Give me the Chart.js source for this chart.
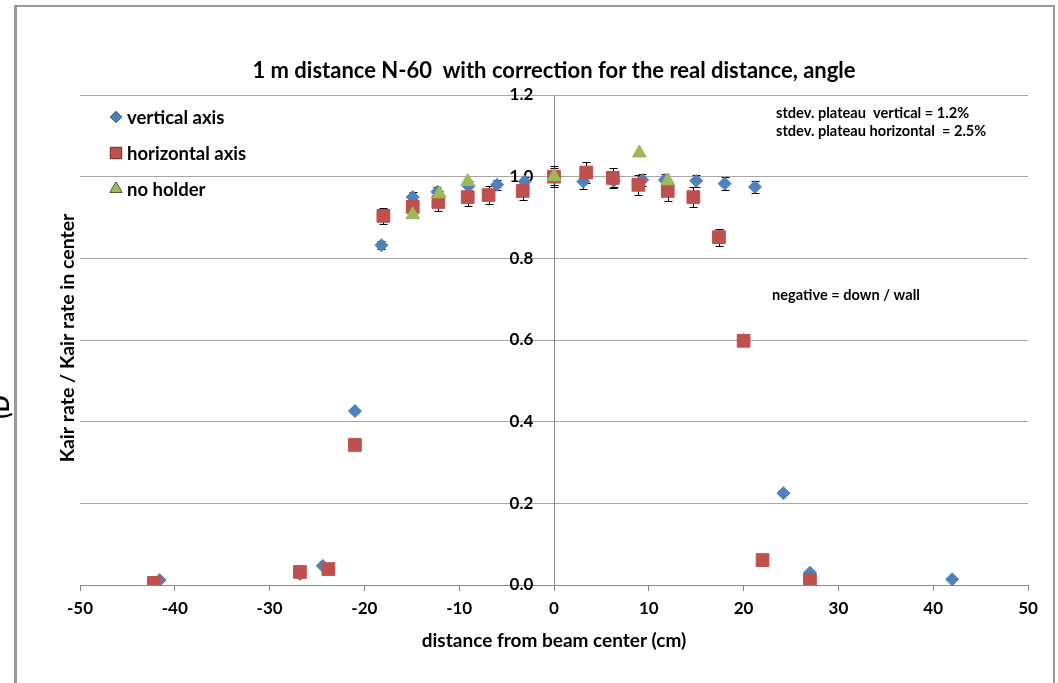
<!DOCTYPE html>
<html>
<head>
<meta charset="utf-8">
<script src="https://cdn.jsdelivr.net/npm/chart.js@4.4.1/dist/chart.umd.min.js"></script>
<style>
  html, body { margin: 0; padding: 0; background: #fff; }
  #wrap { width: 1058px; height: 683px; }
</style>
</head>
<body>
<div id="wrap"><canvas id="kairChart" width="1058" height="683"></canvas></div>
<script>
// data
var verticalX = [-41.6, -26.8, -24.4, -21, -18.2, -14.9, -12.3, -9, -6, -3.1, 0, 3.1, 6.3, 9.3, 11.7, 15, 18, 20, 21.2, 24.2, 27, 42];
var verticalY = [0.012, 0.027, 0.047, 0.426, 0.832, 0.95, 0.963, 0.977, 0.98, 0.988, 1.0, 0.988, 0.99, 0.992, 0.992, 0.99, 0.983, 0.6, 0.975, 0.225, 0.03, 0.014];
var verticalErr = [0.001, 0.001, 0.001, 0.005, 0.01, 0.012, 0.012, 0.012, 0.012, 0.012, 0.02, 0.017, 0.015, 0.015, 0.015, 0.015, 0.016, 0.008, 0.015, 0.003, 0.001, 0.001];

var horizontalX = [-42.2, -26.8, -23.8, -21, -18, -14.9, -12.2, -9.1, -6.9, -3.3, 0, 3.4, 6.2, 8.9, 12, 14.7, 17.4, 20, 22, 27];
var horizontalY = [0.005, 0.032, 0.039, 0.343, 0.904, 0.926, 0.938, 0.95, 0.955, 0.965, 1.0, 1.01, 0.997, 0.98, 0.965, 0.95, 0.852, 0.598, 0.061, 0.012];
var horizontalErr = [0, 0, 0, 0.005, 0.02, 0.02, 0.022, 0.022, 0.022, 0.022, 0.025, 0.025, 0.024, 0.025, 0.025, 0.025, 0.021, 0.013, 0.002, 0];

var noHolderX = [-14.9, -12.1, -9.1, 0, 9, 12];
var noHolderY = [0.907, 0.958, 0.988, 1.0, 1.058, 0.99];

var xTicks = [-50, -40, -30, -20, -10, 0, 10, 20, 30, 40, 50];
var yTicks = [0.0, 0.2, 0.4, 0.6, 0.8, 1.0, 1.2];

var FONT = 'Lato, "Open Sans", sans-serif';

function toPoints(xs, ys) {
    var pts = [];
    for (var i = 0; i < xs.length; i++) pts.push({ x: xs[i], y: ys[i] });
    return pts;
}

// error bars, drawn under the markers
var errorBars = {
    id: 'errorBars',
    beforeDatasetsDraw: function(chart) {
        var ctx = chart.ctx;
        var xs = chart.scales.x, ys = chart.scales.y;
        ctx.save();
        ctx.strokeStyle = '#000';
        ctx.lineWidth = 1;
        chart.data.datasets.forEach(function(ds) {
            if (!ds.errors) return;
            ds.data.forEach(function(p, i) {
                var e = ds.errors[i];
                if (!e) return;
                var px = Math.round(xs.getPixelForValue(p.x)) + 0.5;
                var top = Math.round(ys.getPixelForValue(p.y + e)) + 0.5;
                var bot = Math.round(ys.getPixelForValue(p.y - e)) + 0.5;
                ctx.beginPath();
                ctx.moveTo(px, top); ctx.lineTo(px, bot);
                ctx.moveTo(px - 4, top); ctx.lineTo(px + 4, top);
                ctx.moveTo(px - 4, bot); ctx.lineTo(px + 4, bot);
                ctx.stroke();
            });
        });
        ctx.restore();
    }
};

// titles, legend, notes and outer frame
var decorations = {
    id: 'decorations',
    afterDraw: function(chart) {
        var ctx = chart.ctx;
        ctx.save();
        ctx.fillStyle = '#000';

        ctx.font = 'bold 22px ' + FONT;
        ctx.textAlign = 'center';
        ctx.textBaseline = 'middle';
        ctx.fillText('1 m distance N-60  with correction for the real distance, angle', 554, 71);

        // y axis title
        ctx.save();
        ctx.translate(68, 338);
        ctx.rotate(-Math.PI / 2);
        ctx.font = 'bold 19.5px ' + FONT;
        ctx.fillText('Kair rate / Kair rate in center', 0, 0);
        ctx.restore();

        // cut off text at the left edge
        ctx.save();
        ctx.translate(9, 407);
        ctx.rotate(-Math.PI / 2);
        ctx.font = 'bold 22px ' + FONT;
        ctx.textBaseline = 'alphabetic';
        ctx.fillText('(D', 0, 0);
        ctx.restore();

        // notes
        ctx.textAlign = 'left';
        ctx.font = 'bold 14.6px ' + FONT;
        ctx.fillText('stdev. plateau  vertical = 1.2%', 776, 113);
        ctx.fillText('stdev. plateau horizontal  = 2.5%', 776, 131);
        ctx.fillText('negative = down / wall', 772, 295);

        // legend
        var rows = [117, 153, 189];
        ctx.font = 'bold 18.5px ' + FONT;
        chart.data.datasets.forEach(function(ds, i) {
            Chart.helpers.drawPoint(ctx, {
                pointStyle: ds.pointStyle,
                radius: ds.legendRadius,
                borderWidth: 1
            }, 116, rows[i]);
            ctx.fillStyle = ds.backgroundColor;
            ctx.fill();
            ctx.fillStyle = '#000';
            ctx.fillText(ds.label, 127, rows[i] + 1);
        });

        // outer frame
        ctx.fillStyle = '#9a9a9a';
        ctx.fillRect(14, 5, 3, 678);
        ctx.fillRect(14, 5, 1041, 2);
        ctx.fillRect(1053, 5, 2, 678);
        ctx.restore();
    }
};

var ctx = document.getElementById('kairChart').getContext('2d');
var kairChart = new Chart(ctx, {
    type: 'scatter',
    data: {
        datasets: [
            {
                label: 'vertical axis',
                data: toPoints(verticalX, verticalY),
                errors: verticalErr,
                pointStyle: 'rectRot',
                pointRadius: 6.5,
                legendRadius: 5.5,
                backgroundColor: '#4F81BD',
                borderColor: '#4F81BD',
                borderWidth: 1,
                order: 3
            },
            {
                label: 'horizontal axis',
                data: toPoints(horizontalX, horizontalY),
                errors: horizontalErr,
                pointStyle: 'rect',
                pointRadius: 9,
                legendRadius: 8,
                backgroundColor: '#C0504D',
                borderColor: '#C0504D',
                borderWidth: 1,
                order: 2
            },
            {
                label: 'no holder',
                data: toPoints(noHolderX, noHolderY),
                pointStyle: 'triangle',
                pointRadius: 8,
                legendRadius: 7,
                backgroundColor: '#9BBB59',
                borderColor: '#9BBB59',
                borderWidth: 1,
                order: 1
            }
        ]
    },
    options: {
        responsive: false,
        animation: false,
        devicePixelRatio: 1,
        layout: { padding: { left: 80, right: 30, top: 95, bottom: 0 } },
        plugins: {
            legend: { display: false },
            title: { display: false },
            tooltip: { enabled: false }
        },
        scales: {
            x: {
                type: 'linear',
                position: 'bottom',
                min: -50,
                max: 50,
                afterBuildTicks: function(scale) {
                    scale.ticks = xTicks.map(function(v) { return { value: v }; });
                },
                afterFit: function(scale) { scale.height = 98; },
                grid: {
                    drawOnChartArea: false,
                    drawTicks: true,
                    tickLength: 6,
                    color: '#868686'
                },
                border: { color: '#868686', width: 1 },
                ticks: {
                    color: '#000',
                    padding: 7,
                    maxRotation: 0,
                    font: { family: FONT, size: 17, weight: 'bold' }
                },
                title: {
                    display: true,
                    text: 'distance from beam center (cm)',
                    color: '#000',
                    padding: { top: 0, bottom: 31 },
                    font: { family: FONT, size: 19, weight: 'bold' }
                }
            },
            y: {
                type: 'linear',
                position: { x: 0 },
                min: 0,
                max: 1.2,
                afterBuildTicks: function(scale) {
                    scale.ticks = yTicks.map(function(v) { return { value: v }; });
                },
                grid: {
                    drawTicks: false,
                    color: '#a6a6a6'
                },
                border: { color: '#868686', width: 1 },
                ticks: {
                    color: '#000',
                    font: { family: FONT, size: 17, weight: 'bold' },
                    // axis sits mid-plot, labels are pushed left of it with spaces
                    callback: function(v) { return v.toFixed(1) + '     '; }
                }
            }
        }
    },
    plugins: [errorBars, decorations]
});
</script>
</body>
</html>
